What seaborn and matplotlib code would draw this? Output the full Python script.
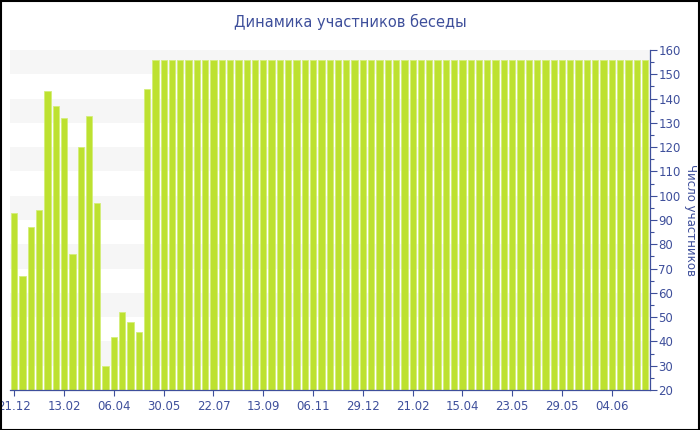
import pandas as pd
import seaborn as sns
import matplotlib.pyplot as plt
from matplotlib.patches import Rectangle
from matplotlib.ticker import MultipleLocator

# participant counts per snapshot
counts_start = [93, 67, 87, 94, 143, 137, 132, 76, 120, 133, 97, 30, 42, 52, 48, 44, 144]
counts_plateau = [156] * 60
counts = counts_start + counts_plateau

# every 6th snapshot carries a date label
tick_labels = ['21.12', '13.02', '06.04', '30.05', '22.07', '13.09', '06.11',
               '29.12', '21.02', '15.04', '23.05', '29.05', '04.06']

title = 'Динамика участников беседы'
ylabel = 'Число участников'

df = pd.DataFrame({'pos': range(len(counts)), 'members': counts})

blue = '#3e4f9b'
lime = '#bde130'

sns.set_style('white')
plt.rcParams['font.family'] = ['DejaVu Sans']

fig = plt.figure(figsize=(7, 4.3), dpi=100)
ax = fig.add_axes([10 / 700, 40 / 430, 640 / 700, 340 / 430])

# alternating light grey bands behind the bars
for lo in range(30, 160, 20):
    ax.axhspan(lo, lo + 10, color='#f6f6f6', zorder=0, lw=0)

sns.barplot(data=df, x='pos', y='members', color=lime, saturation=1,
            width=0.76, edgecolor='#d4ee7a', linewidth=0.6, ax=ax, zorder=2)

ax.set_ylim(20, 160)
ax.set_xlim(-0.52, len(counts) - 0.4)

ax.yaxis.tick_right()
ax.yaxis.set_label_position('right')
ax.yaxis.set_major_locator(MultipleLocator(10))
ax.yaxis.set_minor_locator(MultipleLocator(5))
ax.set_xticks(range(0, len(counts), 6))
ax.set_xticklabels(tick_labels)

ax.tick_params(axis='y', which='major', length=5, width=0.8, color=blue,
               labelcolor=blue, labelsize=8.5, pad=1, right=True, left=False)
ax.tick_params(axis='y', which='minor', length=3, width=0.8, color=blue,
               right=True, left=False)
ax.tick_params(axis='x', length=4, width=0.8, color=blue, labelcolor=blue,
               labelsize=8.5, pad=3, bottom=True)

for side in ['left', 'top']:
    ax.spines[side].set_visible(False)
for side in ['right', 'bottom']:
    ax.spines[side].set_color(blue)
    ax.spines[side].set_linewidth(0.9)

ax.set_xlabel('')
ax.set_ylabel(ylabel, color=blue, fontsize=8.5, rotation=270, labelpad=12)

fig.text(0.5, 1 - 22 / 430, title, ha='center', va='center',
         color=blue, fontsize=10.5)

# thin black frame around the whole image
fig.patches.append(Rectangle((0.001, 0.001), 0.998, 0.997, transform=fig.transFigure,
                             fill=False, edgecolor='black', linewidth=1.5))

fig.savefig('out.png', dpi=100)
